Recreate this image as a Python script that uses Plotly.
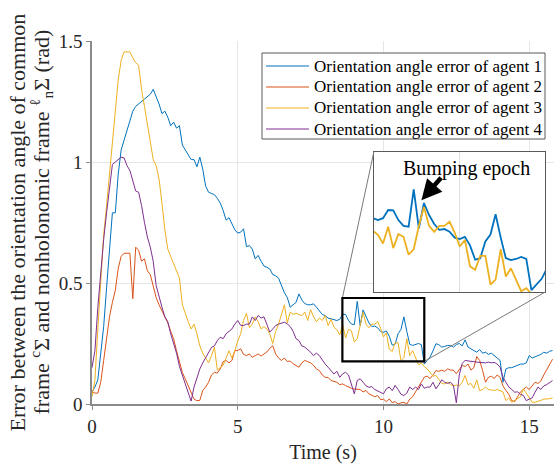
import plotly.graph_objects as go

# ---------------- data (sampled every 0.1 s) ----------------
SAMPLE_DT = 0.1

agent1 = [
    0.05, 0.07, 0.10, 0.20, 0.32, 0.48, 0.65, 0.79, 0.79, 0.95,
    1.05, 1.09, 1.13, 1.17, 1.21, 1.23, 1.24, 1.25, 1.26, 1.27,
    1.28, 1.30, 1.27, 1.24, 1.20, 1.21, 1.185, 1.15, 1.165, 1.14,
    1.15, 1.07, 1.05, 1.03, 1.01, 1.01, 0.98, 1.02, 0.97, 0.90,
    0.875, 0.87, 0.865, 0.85, 0.83, 0.80, 0.76, 0.77, 0.745, 0.72,
    0.706, 0.71, 0.724, 0.65, 0.655, 0.64, 0.60, 0.614, 0.59, 0.57,
    0.565, 0.558, 0.535, 0.53, 0.52, 0.49, 0.46, 0.44, 0.40, 0.41,
    0.42, 0.455, 0.43, 0.415, 0.41, 0.41, 0.414, 0.40, 0.386, 0.37,
    0.365, 0.355, 0.352, 0.35, 0.345, 0.35, 0.371, 0.37, 0.345, 0.33,
    0.328, 0.424, 0.324, 0.389, 0.358, 0.335, 0.32, 0.322, 0.315, 0.30,
    0.296, 0.302, 0.28, 0.243, 0.247, 0.29, 0.308, 0.36, 0.30, 0.247,
    0.242, 0.245, 0.25, 0.245, 0.165, 0.18, 0.194, 0.22, 0.249, 0.245,
    0.235, 0.238, 0.242, 0.242, 0.235, 0.246, 0.25, 0.24, 0.265, 0.235,
    0.228, 0.222, 0.214, 0.225, 0.21, 0.214, 0.205, 0.21, 0.198, 0.19,
    0.18, 0.09, 0.145, 0.15, 0.15, 0.155, 0.16, 0.165, 0.165, 0.17,
    0.20, 0.19, 0.195, 0.20, 0.205, 0.214, 0.21, 0.218, 0.221,
]

agent2 = [
    0.05, 0.045, 0.045, 0.09, 0.18, 0.28, 0.36, 0.42, 0.47, 0.56,
    0.61, 0.623, 0.623, 0.623, 0.435, 0.648, 0.635, 0.59, 0.60, 0.55,
    0.535, 0.49, 0.44, 0.41, 0.386, 0.36, 0.335, 0.30, 0.27, 0.22,
    0.17, 0.13, 0.104, 0.075, 0.05, 0.02, 0.014, 0.015, 0.056, 0.07,
    0.09, 0.12, 0.131, 0.128, 0.145, 0.175, 0.18, 0.17, 0.18, 0.22,
    0.221, 0.228, 0.205, 0.20, 0.207, 0.193, 0.20, 0.207, 0.198, 0.207,
    0.215, 0.23, 0.241, 0.207, 0.19, 0.18, 0.19, 0.175, 0.178, 0.166,
    0.16, 0.152, 0.17, 0.18, 0.175, 0.17, 0.16, 0.145, 0.138, 0.12,
    0.11, 0.11, 0.097, 0.095, 0.09, 0.08, 0.083, 0.076, 0.07, 0.065,
    0.062, 0.06, 0.06, 0.05, 0.056, 0.042, 0.035, 0.03, 0.035, 0.018,
    0.02, 0.01, 0.021, 0.005, 0.01, 0.0, 0.005, 0.007, 0.0, 0.02,
    0.03, 0.05, 0.069, 0.09, 0.111, 0.115, 0.105, 0.12, 0.138, 0.135,
    0.14, 0.135, 0.145, 0.14, 0.14, 0.125, 0.14, 0.159, 0.155, 0.165,
    0.14, 0.15, 0.196, 0.18, 0.139, 0.09, 0.11, 0.115, 0.105, 0.12,
    0.11, 0.075, 0.056, 0.04, 0.014, 0.01, 0.03, 0.05, 0.06, 0.07,
    0.06, 0.075, 0.09, 0.085, 0.095, 0.12, 0.14, 0.165, 0.185,
]

agent3 = [
    0.03, 0.10, 0.31, 0.50, 0.70, 0.82, 0.94, 1.07, 1.21, 1.34,
    1.42, 1.455, 1.455, 1.455, 1.43, 1.41, 1.40, 1.30, 1.23, 1.15,
    1.08, 1.01, 0.985, 0.93, 0.83, 0.72, 0.64, 0.61, 0.58, 0.55,
    0.52, 0.41, 0.37, 0.34, 0.31, 0.33, 0.29, 0.24, 0.21, 0.19,
    0.17, 0.20, 0.235, 0.14, 0.15, 0.16, 0.19, 0.22, 0.19, 0.22,
    0.26, 0.29, 0.345, 0.375, 0.315, 0.33, 0.36, 0.34, 0.31, 0.32,
    0.31, 0.29, 0.25, 0.30, 0.33, 0.37, 0.41, 0.335, 0.38, 0.37,
    0.375, 0.37, 0.365, 0.38, 0.345, 0.39, 0.36, 0.34, 0.355, 0.345,
    0.366, 0.324, 0.35, 0.318, 0.307, 0.285, 0.328, 0.273, 0.309, 0.302,
    0.256, 0.27, 0.33, 0.379, 0.33, 0.315, 0.33, 0.33, 0.341, 0.313,
    0.277, 0.294, 0.226, 0.217, 0.253, 0.253, 0.179, 0.192, 0.27, 0.20,
    0.221, 0.192, 0.162, 0.17, 0.155, 0.145, 0.13, 0.115, 0.118, 0.10,
    0.085, 0.083, 0.09, 0.08, 0.075, 0.078, 0.075, 0.09, 0.118, 0.08,
    0.085, 0.065, 0.10, 0.055, 0.06, 0.07, 0.06, 0.058, 0.056, 0.06,
    0.056, 0.05, 0.014, 0.025, 0.007, 0.015, 0.02, 0.03, 0.063, 0.045,
    0.025, 0.007, 0.007, 0.01, 0.015, 0.02, 0.02, 0.022, 0.025,
]

agent4 = [
    0.15, 0.22, 0.40, 0.55, 0.68, 0.79, 0.90, 0.99, 1.00, 1.01,
    1.02, 1.017, 0.985, 0.965, 0.92, 0.88, 0.875, 0.82, 0.75, 0.69,
    0.648, 0.59, 0.49, 0.44, 0.40, 0.36, 0.34, 0.29, 0.25, 0.21,
    0.155, 0.12, 0.09, 0.05, 0.012, 0.07, 0.11, 0.145, 0.17, 0.19,
    0.21, 0.234, 0.24, 0.262, 0.276, 0.27, 0.29, 0.30, 0.31, 0.33,
    0.345, 0.325, 0.324, 0.33, 0.33, 0.36, 0.345, 0.366, 0.355, 0.36,
    0.33, 0.297, 0.31, 0.324, 0.33, 0.335, 0.338, 0.331, 0.32, 0.30,
    0.27, 0.262, 0.24, 0.235, 0.225, 0.214, 0.20, 0.21, 0.20, 0.18,
    0.165, 0.152, 0.14, 0.124, 0.135, 0.11, 0.125, 0.131, 0.12, 0.083,
    0.042, 0.097, 0.104, 0.09, 0.075, 0.069, 0.072, 0.06, 0.055, 0.049,
    0.042, 0.063, 0.07, 0.055, 0.077, 0.06, 0.04, 0.035, 0.045, 0.07,
    0.06, 0.07, 0.06, 0.083, 0.065, 0.07, 0.07, 0.09, 0.063, 0.08,
    0.10, 0.09, 0.085, 0.09, 0.077, 0.005, 0.12, 0.168, 0.18, 0.178,
    0.178, 0.175, 0.173, 0.172, 0.17, 0.17, 0.173, 0.17, 0.172, 0.165,
    0.152, 0.11, 0.09, 0.07, 0.06, 0.049, 0.05, 0.04, 0.035, 0.014,
    0.02, 0.025, 0.049, 0.07, 0.06, 0.075, 0.08, 0.09, 0.097,
]

series_names = [
    "Orientation angle error of agent 1",
    "Orientation angle error of agent 2",
    "Orientation angle error of agent 3",
    "Orientation angle error of agent 4",
]
series_values = [agent1, agent2, agent3, agent4]
series_colors = ["#0072BD", "#D95319", "#EDB120", "#7E2F8E"]
inset_series = [0, 2]  # agents shown in zoomed inset

x_ticks = [0, 5, 10, 15]
y_ticks = [0, 0.5, 1, 1.5]
y_ticktext = ["0", "0.5", "1", "1.5"]

# ---------------- layout config ----------------
W, H = 554, 464
M_L, M_R, M_T, M_B = 92, 0, 41, 60
X_RANGE = [0, 15.85]
Y_RANGE = [0, 1.5]
ZOOM_BOX = dict(x0=8.59, x1=11.40, y0=0.176, y1=0.438)
INSET_X_RANGE = [8.32, 11.67]
INSET_Y_RANGE = [0.16, 0.52]
INSET_DOM_X = [0.610, 0.981]
INSET_DOM_Y = [0.3085, 0.694]

FONT = "Liberation Serif"
TXT = "#262626"

PW = W - M_L - M_R
PH = H - M_T - M_B


def px_x(p):
    return (p - M_L) / PW


def px_y(p):
    return (H - M_B - p) / PH


n = len(agent1)
assert all(len(s) == n for s in series_values)
time = [round(i * SAMPLE_DT, 2) for i in range(n)]

fig = go.Figure()
for name, vals, col in zip(series_names, series_values, series_colors):
    fig.add_trace(go.Scatter(x=time, y=vals, mode="lines", name=name,
                             line=dict(color=col, width=1),
                             showlegend=False, xaxis="x", yaxis="y"))
for i in inset_series:
    fig.add_trace(go.Scatter(x=time, y=series_values[i], mode="lines",
                             line=dict(color=series_colors[i], width=1.8),
                             showlegend=False, xaxis="x2", yaxis="y2"))


def to_main(dx, dy):
    return (X_RANGE[0] + dx * (X_RANGE[1] - X_RANGE[0]),
            Y_RANGE[0] + dy * (Y_RANGE[1] - Y_RANGE[0]))


tl = to_main(INSET_DOM_X[0], INSET_DOM_Y[1])
br = to_main(INSET_DOM_X[1], INSET_DOM_Y[0])

shapes = [
    dict(type="line", xref="x", yref="y", x0=ZOOM_BOX["x0"], y0=ZOOM_BOX["y1"],
         x1=tl[0], y1=tl[1], line=dict(color="#7a7a7a", width=1)),
    dict(type="line", xref="x", yref="y", x0=ZOOM_BOX["x1"], y0=ZOOM_BOX["y0"],
         x1=br[0], y1=br[1], line=dict(color="#7a7a7a", width=1)),
    dict(type="rect", xref="x", yref="y", x0=ZOOM_BOX["x0"], x1=ZOOM_BOX["x1"],
         y0=ZOOM_BOX["y0"], y1=ZOOM_BOX["y1"], line=dict(color="black", width=2.2)),
]

annotations = [
    dict(xref="x2", yref="y2", x=10.14, y=0.477, text="Bumping epoch",
         showarrow=False, font=dict(family=FONT, size=20, color="black")),
    dict(xref="x2", yref="y2", x=9.25, y=0.396, axref="x2", ayref="y2",
         ax=9.66, ay=0.458, text="", showarrow=True, arrowhead=2,
         arrowsize=0.9, arrowwidth=4.5, arrowcolor="black"),
    dict(xref="paper", yref="paper", x=px_x(17), y=0.5,
         text="Error between the orientation angle of common",
         textangle=-90, showarrow=False, xanchor="center", yanchor="middle",
         font=dict(family=FONT, size=22, color=TXT)),
    dict(xref="paper", yref="paper", x=px_x(41), y=0.5,
         text="frame <sup>c</sup>Σ and nonholonomic frame <sup>ℓ</sup><sub>n</sub>Σ (rad)",
         textangle=-90, showarrow=False, xanchor="center", yanchor="middle",
         font=dict(family=FONT, size=22, color=TXT)),
]

# ---- legend box (drawn to match the reference's compact row spacing) ----
LEG_BOX = (262, 53, 545, 139)      # left, top, right, bottom (pixels)
LEG_ROWS = [66, 87, 108, 129]      # row centers (pixels)
LEG_LINE = (266, 309)
LEG_TEXT_X = 312
shapes.append(dict(type="rect", xref="paper", yref="paper",
                   x0=px_x(LEG_BOX[0]), x1=px_x(LEG_BOX[2]),
                   y0=px_y(LEG_BOX[3]), y1=px_y(LEG_BOX[1]),
                   fillcolor="white", line=dict(color="#5a5a5a", width=1),
                   layer="above"))
for name, col, ry in zip(series_names, series_colors, LEG_ROWS):
    shapes.append(dict(type="line", xref="paper", yref="paper",
                       x0=px_x(LEG_LINE[0]), x1=px_x(LEG_LINE[1]),
                       y0=px_y(ry), y1=px_y(ry), layer="above",
                       line=dict(color=col, width=1)))
    annotations.append(dict(xref="paper", yref="paper", x=px_x(LEG_TEXT_X),
                            y=px_y(ry), text=name, showarrow=False,
                            xanchor="left", yanchor="middle",
                            font=dict(family=FONT, size=17, color="black")))

axis_common = dict(showgrid=True, gridcolor="#e6e6e6", gridwidth=1,
                   showline=True, linecolor="#8a8a8a", linewidth=1.5,
                   ticks="outside", ticklen=4, tickcolor="#8a8a8a",
                   zeroline=False,
                   tickfont=dict(family=FONT, size=19, color=TXT))

fig.update_layout(
    width=W, height=H,
    margin=dict(l=M_L, r=M_R, t=M_T, b=M_B),
    paper_bgcolor="white", plot_bgcolor="white",
    font=dict(family=FONT, color=TXT),
    xaxis=dict(range=X_RANGE, tickvals=x_ticks, domain=[0, 1],
               title=dict(text="Time (s)", font=dict(family=FONT, size=20, color=TXT),
                          standoff=9),
               **axis_common),
    yaxis=dict(range=Y_RANGE, tickvals=y_ticks, ticktext=y_ticktext, domain=[0, 1],
               **axis_common),
    xaxis2=dict(domain=INSET_DOM_X, anchor="y2", range=INSET_X_RANGE,
                showgrid=True, gridcolor="#e0e0e0", tickvals=[10],
                showticklabels=False, ticks="", zeroline=False,
                showline=True, mirror=True, linecolor="#5a5a5a", linewidth=1),
    yaxis2=dict(domain=INSET_DOM_Y, anchor="x2", range=INSET_Y_RANGE,
                showgrid=False, showticklabels=False, ticks="", zeroline=False,
                showline=True, mirror=True, linecolor="#5a5a5a", linewidth=1),
    shapes=shapes,
    annotations=annotations,
    showlegend=False,
)

fig.write_html("out.html")
